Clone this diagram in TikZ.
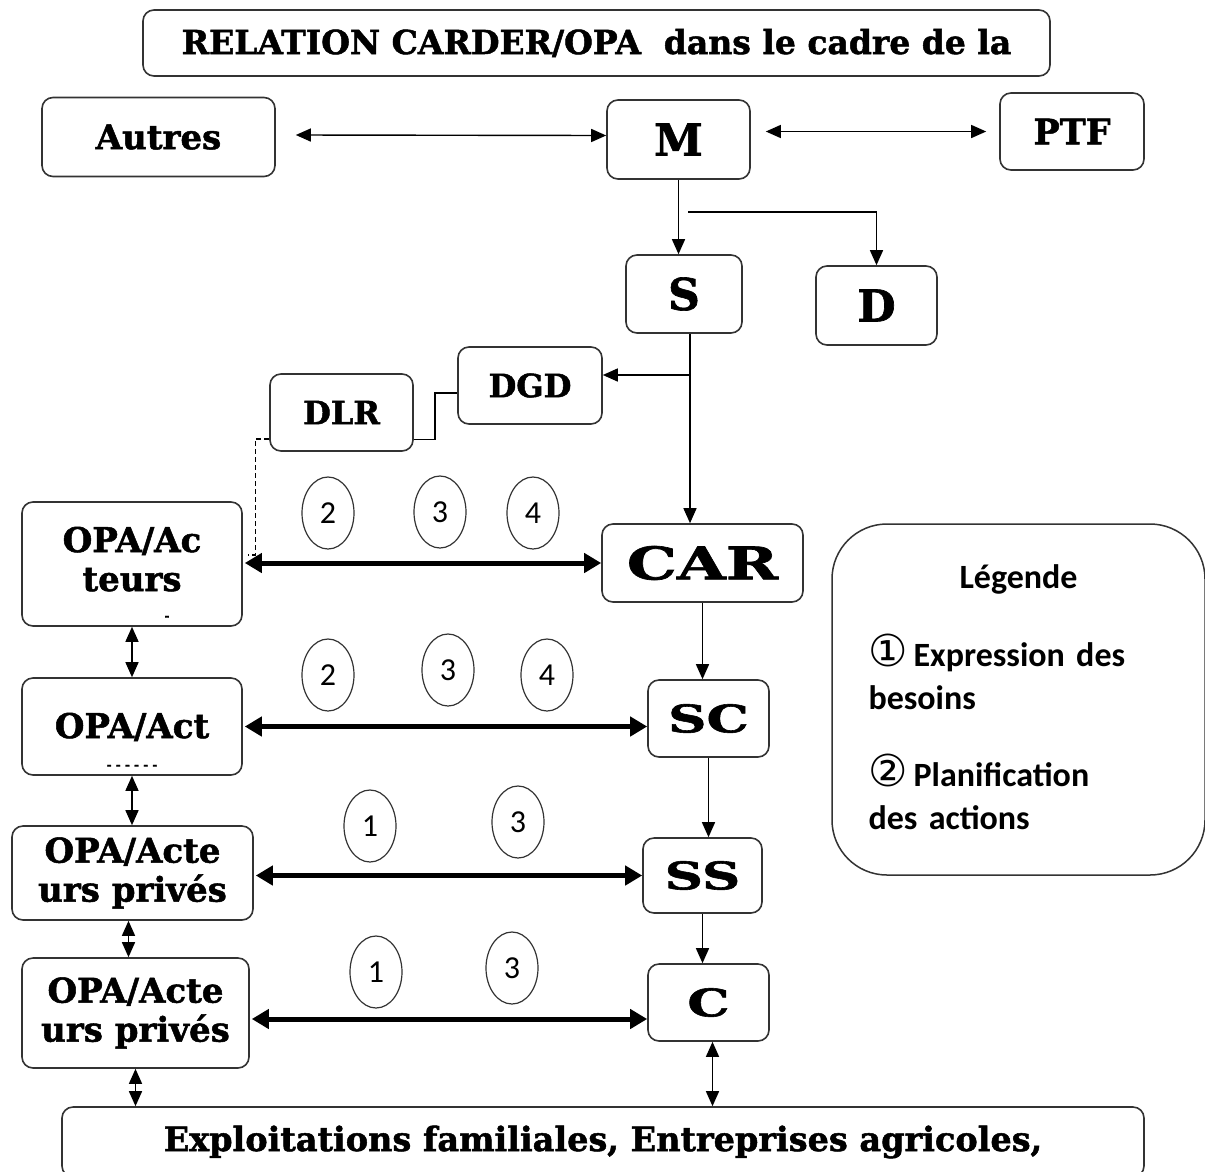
\documentclass[tikz,border=0pt]{standalone}
\usepackage{fontspec}
\setmainfont{DejaVu Serif}[BoldFeatures={FakeBold=1.5}]
\newfontfamily\legfont{Carlito}
\newfontfamily\symfont{DejaVu Sans}
\newfontfamily\widefont{DejaVu Serif}[FakeStretch=1.4,BoldFeatures={FakeBold=1.5}]
\usetikzlibrary{arrows.meta,shapes.geometric}
\begin{document}
\begin{tikzpicture}[x=1pt,y=-1pt,
  box/.style={draw=black!80,line width=1.6pt,rounded corners=11pt,fill=white,inner sep=0pt,align=center,font=\bfseries\fontsize{34}{39}\selectfont},
  big/.style={font=\bfseries\fontsize{44}{48}\selectfont},
  wide/.style={font=\widefont\bfseries\fontsize{38}{42}\selectfont},
  num/.style={draw=black!80,line width=1.2pt,ellipse,minimum width=52pt,minimum height=72pt,inner sep=0pt,font=\legfont\fontsize{32}{32}\selectfont},
  arr/.style={line width=1.4pt,-{Triangle[length=15pt,width=13pt]}},
  biarr/.style={line width=1.4pt,{Triangle[length=15pt,width=13pt]}-{Triangle[length=15pt,width=13pt]}},
  fatarr/.style={line width=5pt,{Triangle[length=17pt,width=19pt]}-{Triangle[length=17pt,width=19pt]}},
]
\useasboundingbox (0,0) rectangle (1205,1171);
\clip (0,0) rectangle (1205,1171);
\fill[white] (0,0) rectangle (1205,1171);

% boxes
\node[box,minimum width=907pt,minimum height=66pt,font=\bfseries\fontsize{33}{38}\selectfont] (title) at (596.5,43) {RELATION CARDER/OPA\ \ dans le cadre de la};
\node[box,minimum width=233pt,minimum height=79pt] (autres) at (158.5,137) {Autres};
\node[box,big,minimum width=143pt,minimum height=79pt] (M) at (678.5,139.5) {M};
\node[box,minimum width=144pt,minimum height=77pt,font=\bfseries\fontsize{35}{38}\selectfont] (PTF) at (1072,131.5) {PTF};
\node[box,big,minimum width=116pt,minimum height=78pt] (S) at (684,294) {S};
\node[box,big,minimum width=121pt,minimum height=79pt] (D) at (876.5,305.5) {D};
\node[box,font=\bfseries\fontsize{32}{38}\selectfont,minimum width=144pt,minimum height=77pt] (DGD) at (530,385.5) {DGD};
\node[box,font=\bfseries\fontsize{32}{38}\selectfont,minimum width=143pt,minimum height=77pt] (DLR) at (341.5,412.5) {DLR};
\node[box,minimum width=220pt,minimum height=124pt] (opa1) at (132,564) {\rule{0pt}{44pt}OPA/Ac\\teurs\\[-10pt]{\fontsize{12}{12}\selectfont\hspace*{70pt}-}};
\node[box,minimum width=201pt,minimum height=78pt,font=\widefont\bfseries\fontsize{45}{48}\selectfont] (CAR) at (702.5,563) {CAR};
\node[box,minimum width=220pt,minimum height=97pt] (opa2) at (132,726.5) {\rule{0pt}{54pt}OPA/Act\\[-8pt]{\fontsize{12}{12}\selectfont - - - - - -}};
\node[box,wide,minimum width=121pt,minimum height=77pt] (SC) at (708.5,718.5) {SC};
\node[box,minimum width=241pt,minimum height=94pt] (opa3) at (132.5,873) {OPA/Acte\\urs privés};
\node[box,wide,minimum width=119pt,minimum height=75pt] (SS) at (702.5,875.5) {SS};
\node[box,minimum width=227pt,minimum height=110pt] (opa4) at (135.5,1013) {OPA/Acte\\urs privés};
\node[box,wide,minimum width=121pt,minimum height=77pt] (C) at (708.5,1002.5) {C};
\node[box,minimum width=1082pt,minimum height=70pt,font=\bfseries\fontsize{33.5}{40}\selectfont] (bot) at (603,1142) {Exploitations familiales, Entreprises agricoles,};

% legend
\node[draw=black!80,line width=1.5pt,rounded corners=55pt,minimum width=373pt,minimum height=351pt] (leg) at (1018.5,699.5) {};
\node[text width=300pt,align=left,inner sep=0pt,font=\legfont\bfseries\fontsize{34}{43}\selectfont] (legtxt) at (1018.5,697) {{\centering Légende\par}\vspace{35pt}{\symfont\mdseries\fontsize{44}{43}\selectfont ①}\,Expression des\\besoins\\[34pt]{\symfont\mdseries\fontsize{44}{43}\selectfont ②}\,Planification\\des actions};

% number ellipses
\node[num] (n1a) at (328,513) {2};
\node[num] (n1b) at (440,512) {3};
\node[num] (n1c) at (533,513) {4};
\node[num] (n2a) at (328,675) {2};
\node[num] (n2b) at (448,670) {3};
\node[num] (n2c) at (547,675) {4};
\node[num] (n3a) at (370,826) {1};
\node[num] (n3b) at (518,822) {3};
\node[num] (n4a) at (376,972) {1};
\node[num] (n4b) at (512,968) {3};

% top connectors
\draw[biarr] ([xshift=20pt,yshift=2pt]autres.east) -- ([yshift=4pt]M.west);
\draw[biarr] ([xshift=15pt]M.east |- PTF.west) -- ([xshift=-13pt]PTF.west);
\draw[arr] (M.south) -- (M.south |- S.north);
\coordinate (mj) at (688,212);
\draw[arr] (mj) -| (D.north);
\coordinate (ss) at ([xshift=6pt]S.south);
\draw[arr] (ss) -- (ss |- CAR.north);
\coordinate (sj) at (690,375);
\draw[arr] (sj) -- (sj -| DGD.east);
\draw[line width=1.4pt] ([yshift=-27pt]DLR.east) -- ++(21,0) |- ([yshift=-7.5pt]DGD.west);
\draw[line width=1.2pt,dash pattern=on 5pt off 3pt] ([yshift=-26.5pt]DLR.west) -- ++(-14,0) |- ([xshift=5pt,yshift=9pt]opa1.east);

% vertical chain
\draw[arr] (CAR.south) -- (CAR.south |- SC.north);
\draw[arr] (SC.south) -- (SC.south |- SS.north);
\draw[arr] (SS.south) -- (SS.south |- C.north);
\draw[biarr] ([xshift=4pt]C.south) -- ([xshift=4pt]C.south |- bot.north);

% horizontal thick arrows
\draw[fatarr] ([xshift=2pt]opa1.east |- CAR.west) -- (CAR.west);
\draw[fatarr] ([xshift=2pt]opa2.east) -- (opa2.east -| SC.west);
\draw[fatarr] ([xshift=2pt]opa3.east |- SS.west) -- (SS.west);
\draw[fatarr] ([xshift=2pt,yshift=-6pt]opa4.east) -- ([yshift=-6pt]opa4.east -| C.west);

% left vertical double arrows
\draw[biarr] (opa1.south) -- (opa1.south |- opa2.north);
\draw[biarr] (opa2.south) -- (opa2.south |- opa3.north);
\draw[biarr] ([xshift=-4pt]opa3.south) -- ([xshift=-4pt]opa3.south |- opa4.north);
\draw[biarr] (opa4.south) -- (opa4.south |- bot.north);
\end{tikzpicture}
\end{document}
